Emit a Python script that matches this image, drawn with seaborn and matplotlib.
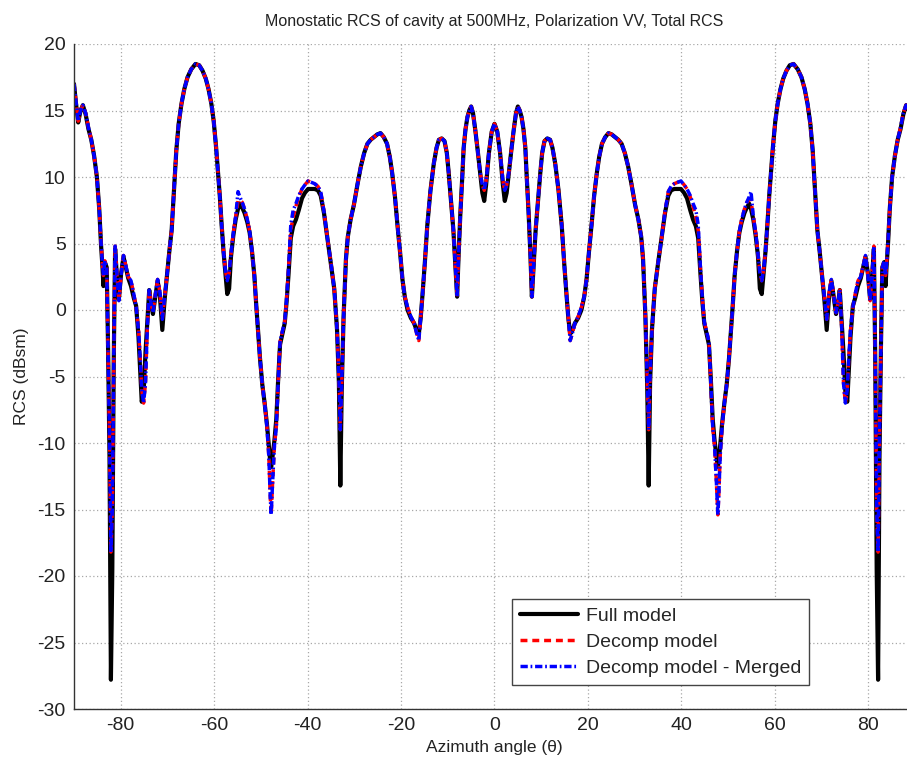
import matplotlib
matplotlib.use("Agg")
import matplotlib.pyplot as plt
import seaborn as sns

# Azimuth angles (deg), left half -90..0
angle_left = [
    -90.0, -89.6, -89.1, -88.6, -88.1, -87.5, -86.9, -86.3, -85.7, -85.1,
    -84.6, -84.2, -83.9, -83.7, -83.4, -83.0, -82.7, -82.4, -82.1, -81.8,
    -81.5, -81.2, -80.8, -80.4, -79.9, -79.4, -78.9, -78.4, -77.8, -77.2,
    -76.7, -76.2, -75.8, -75.5, -75.1, -74.7, -74.3, -73.9, -73.5, -73.1,
    -72.6, -72.1, -71.6, -71.1, -70.6, -70.1, -69.6, -69.1, -68.6, -68.1,
    -67.6, -67.0, -66.4, -65.7, -64.9, -64.0, -63.2, -62.5, -61.8, -61.2,
    -60.6, -60.1, -59.6, -59.2, -58.8, -58.4, -58.0, -57.6, -57.2, -56.8,
    -56.4, -55.9, -55.4, -54.9, -54.5, -54.0, -53.5, -52.9, -52.4, -51.9,
    -51.4, -51.0, -50.6, -50.2, -49.7, -49.2, -48.7, -48.3, -48.0, -47.8,
    -47.5, -47.1, -46.7, -46.3, -45.9, -45.4, -44.9, -44.5, -44.1, -43.6,
    -43.1, -42.5, -41.9, -41.2, -40.6, -39.9, -39.2, -38.5, -37.8, -37.2,
    -36.5, -35.8, -35.0, -34.3, -33.7, -33.3, -33.0, -32.7, -32.3, -31.8,
    -31.4, -30.8, -30.1, -29.3, -28.6, -27.9, -27.2, -26.5, -25.8, -25.1,
    -24.4, -23.7, -23.0, -22.4, -21.9, -21.3, -20.8, -20.2, -19.7, -19.2,
    -18.6, -17.9, -17.2, -16.7, -16.2, -15.8, -15.4, -14.9, -14.4, -13.7,
    -13.0, -12.4, -11.9, -11.3, -10.7, -10.2, -9.8, -9.3, -8.8, -8.4,
    -8.0, -7.7, -7.3, -6.9, -6.6, -6.2, -5.8, -5.4, -5.0, -4.6,
    -4.1, -3.6, -3.1, -2.6, -2.2, -1.8, -1.2, -0.6, 0.0,
]
full_left = [
    17.0, 15.6, 14.1, 15.0, 15.4, 14.7, 13.6, 12.8, 11.6, 10.0,
    7.6, 4.8, 3.2, 1.8, 3.6, 3.2, -3.0, -11.0, -27.8, -19.5,
    -4.0, 4.6, 2.4, 0.8, 2.8, 4.0, 3.2, 2.4, 1.8, 0.9,
    0.3, -2.0, -4.8, -6.9, -6.2, -3.2, -0.8, 1.5, 0.4, -0.3,
    1.0, 2.2, 1.0, -1.5, 0.8, 2.6, 4.4, 6.0, 9.0, 12.0,
    14.0, 15.5, 16.6, 17.5, 18.1, 18.5, 18.4, 18.0, 17.4, 16.6,
    15.5, 14.2, 12.3, 10.5, 8.6, 6.4, 4.4, 2.8, 1.2, 1.6,
    4.0, 5.6, 6.8, 7.6, 8.0, 7.7, 7.3, 6.6, 5.8, 4.4,
    2.6, 0.4, -1.6, -3.6, -5.6, -7.0, -8.6, -10.2, -11.4, -11.8,
    -11.0, -9.8, -8.2, -5.2, -2.6, -1.8, -1.0, 0.6, 2.6, 5.4,
    6.3, 6.8, 7.5, 8.4, 8.8, 9.1, 9.1, 9.1, 9.0, 8.6,
    7.3, 5.5, 3.5, 1.6, -1.5, -5.5, -13.2, -6.0, -0.5, 3.8,
    5.5, 6.8, 7.9, 9.5, 10.8, 11.8, 12.5, 12.8, 13.0, 13.2,
    13.3, 13.0, 12.5, 11.5, 10.3, 8.5, 6.5, 4.3, 2.3, 1.0,
    0.0, -0.6, -1.0, -1.5, -1.8, -0.6, 1.2, 3.6, 6.3, 9.0,
    11.0, 12.2, 12.8, 12.9, 12.7, 11.8, 10.3, 8.2, 6.0, 3.5,
    1.0, 4.0, 7.3, 10.0, 12.2, 13.6, 14.5, 15.0, 15.3, 14.8,
    13.5, 12.0, 10.4, 8.8, 8.2, 9.4, 11.8, 13.4, 14.0,
]
decomp_left = [
    17.0, 15.8, 14.2, 15.0, 15.4, 14.8, 13.7, 12.8, 11.6, 10.0,
    7.6, 5.0, 3.4, 2.6, 3.7, 3.2, -3.0, -9.5, -18.2, -15.0,
    -4.0, 4.8, 2.6, 0.7, 2.7, 4.1, 3.3, 2.5, 2.2, 1.2,
    0.2, -1.5, -3.8, -6.0, -7.0, -5.5, -1.2, 1.5, 0.5, -0.2,
    1.1, 2.3, 1.3, -0.7, 1.0, 2.6, 4.4, 6.0, 9.0, 12.0,
    14.0, 15.5, 16.6, 17.5, 18.1, 18.5, 18.4, 18.0, 17.4, 16.6,
    15.5, 14.2, 12.3, 10.5, 8.6, 6.4, 4.4, 3.0, 2.2, 2.8,
    4.2, 5.8, 7.0, 8.2, 8.3, 8.1, 7.6, 6.8, 5.9, 4.4,
    2.6, 0.4, -1.6, -3.6, -5.6, -7.0, -8.8, -11.0, -14.0, -15.4,
    -13.0, -10.2, -8.8, -5.5, -2.4, -1.6, -0.9, 0.8, 3.0, 6.0,
    7.0, 7.8, 8.5, 9.1, 9.4, 9.7, 9.6, 9.5, 9.3, 8.9,
    7.4, 5.5, 3.5, 1.6, -1.5, -5.0, -9.0, -5.5, -0.5, 3.8,
    5.5, 6.8, 7.9, 9.5, 10.8, 11.8, 12.5, 12.8, 13.0, 13.2,
    13.3, 13.0, 12.5, 11.5, 10.3, 8.5, 6.5, 4.3, 2.3, 1.0,
    0.2, -0.5, -1.0, -1.7, -2.3, -0.6, 1.2, 3.6, 6.3, 9.0,
    11.0, 12.2, 12.8, 12.9, 12.7, 11.8, 10.3, 8.2, 6.0, 3.5,
    1.0, 4.0, 7.3, 10.0, 12.2, 13.6, 14.5, 15.0, 15.3, 14.8,
    13.5, 12.0, 10.4, 9.4, 9.0, 9.7, 11.8, 13.4, 14.0,
]
merged_left = [
    17.0, 15.8, 14.2, 15.0, 15.4, 14.8, 13.7, 12.8, 11.6, 10.0,
    7.6, 5.0, 3.4, 2.6, 3.7, 3.2, -3.0, -9.5, -18.2, -15.0,
    -4.0, 4.8, 2.6, 0.7, 2.7, 4.1, 3.3, 2.5, 2.2, 1.2,
    0.2, -1.5, -3.8, -6.0, -7.0, -5.5, -1.2, 1.5, 0.5, -0.2,
    1.1, 2.3, 1.3, -0.7, 1.0, 2.6, 4.4, 6.0, 9.0, 12.0,
    14.0, 15.5, 16.6, 17.5, 18.1, 18.5, 18.4, 18.0, 17.4, 16.6,
    15.5, 14.2, 12.3, 10.5, 8.6, 6.4, 4.4, 3.0, 2.2, 2.8,
    4.2, 5.8, 7.0, 8.9, 8.5, 8.1, 7.6, 6.8, 5.9, 4.4,
    2.6, 0.4, -1.6, -3.6, -5.6, -7.0, -8.8, -11.0, -14.0, -15.4,
    -13.0, -10.2, -8.8, -5.5, -2.4, -1.6, -0.9, 0.8, 3.0, 6.4,
    7.5, 8.0, 8.6, 9.1, 9.4, 9.7, 9.6, 9.5, 9.3, 8.9,
    7.4, 5.5, 3.5, 1.6, -1.5, -5.0, -9.0, -5.5, -0.5, 3.8,
    5.5, 6.8, 7.9, 9.5, 10.8, 11.8, 12.5, 12.8, 13.0, 13.2,
    13.3, 13.0, 12.5, 11.5, 10.3, 8.5, 6.5, 4.3, 2.3, 1.0,
    0.2, -0.5, -1.0, -1.7, -2.3, -0.6, 1.2, 3.6, 6.3, 9.0,
    11.0, 12.2, 12.8, 12.9, 12.7, 11.8, 10.3, 8.2, 6.0, 3.5,
    1.0, 4.0, 7.3, 10.0, 12.2, 13.6, 14.5, 15.0, 15.3, 14.8,
    13.5, 12.0, 10.4, 9.4, 9.0, 9.7, 11.8, 13.4, 14.0,
]

# right half 0..90
angle_right = [
    0.6, 1.2, 1.8, 2.2, 2.6, 3.1, 3.6, 4.1, 4.6, 5.0,
    5.4, 5.8, 6.2, 6.6, 6.9, 7.3, 7.7, 8.0, 8.4, 8.8,
    9.3, 9.8, 10.2, 10.7, 11.3, 11.9, 12.4, 13.0, 13.7, 14.4,
    14.9, 15.4, 15.8, 16.2, 16.7, 17.2, 17.9, 18.6, 19.2, 19.7,
    20.2, 20.8, 21.3, 21.9, 22.4, 23.0, 23.7, 24.4, 25.1, 25.8,
    26.5, 27.2, 27.9, 28.6, 29.3, 30.1, 30.8, 31.4, 31.8, 32.3,
    32.7, 33.0, 33.3, 33.7, 34.3, 35.0, 35.8, 36.5, 37.2, 37.8,
    38.5, 39.2, 39.9, 40.6, 41.2, 41.9, 42.5, 43.1, 43.6, 44.1,
    44.5, 44.9, 45.4, 45.9, 46.3, 46.7, 47.1, 47.5, 47.8, 48.0,
    48.3, 48.7, 49.2, 49.7, 50.2, 50.6, 51.0, 51.4, 51.9, 52.4,
    52.9, 53.5, 54.0, 54.5, 54.9, 55.4, 55.9, 56.4, 56.8, 57.2,
    57.6, 58.0, 58.4, 58.8, 59.2, 59.6, 60.1, 60.6, 61.2, 61.8,
    62.5, 63.2, 64.0, 64.9, 65.7, 66.4, 67.0, 67.6, 68.1, 68.6,
    69.1, 69.6, 70.1, 70.6, 71.1, 71.6, 72.1, 72.6, 73.1, 73.5,
    73.9, 74.3, 74.7, 75.1, 75.5, 75.8, 76.2, 76.7, 77.2, 77.8,
    78.4, 78.9, 79.4, 79.9, 80.4, 80.8, 81.2, 81.5, 81.8, 82.1,
    82.4, 82.7, 83.0, 83.4, 83.7, 83.9, 84.2, 84.6, 85.1, 85.7,
    86.3, 86.9, 87.5, 88.1, 88.6, 89.1, 89.6, 90.0,
]
full_right = [
    13.4, 11.8, 9.4, 8.2, 8.8, 10.4, 12.0, 13.5, 14.8, 15.3,
    15.0, 14.5, 13.6, 12.2, 10.0, 7.3, 4.0, 1.0, 3.5, 6.0,
    8.2, 10.3, 11.8, 12.7, 12.9, 12.8, 12.2, 11.0, 9.0, 6.3,
    3.6, 1.2, -0.6, -1.8, -1.5, -1.0, -0.6, 0.0, 1.0, 2.3,
    4.3, 6.5, 8.5, 10.3, 11.5, 12.5, 13.0, 13.3, 13.2, 13.0,
    12.8, 12.5, 11.8, 10.8, 9.5, 7.9, 6.8, 5.5, 3.8, -0.5,
    -6.0, -13.2, -5.5, -1.5, 1.6, 3.5, 5.5, 7.3, 8.6, 9.0,
    9.1, 9.1, 9.1, 8.8, 8.4, 7.5, 6.8, 6.3, 5.4, 2.6,
    0.6, -1.0, -1.8, -2.6, -5.2, -8.2, -9.8, -11.0, -11.8, -11.4,
    -10.2, -8.6, -7.0, -5.6, -3.6, -1.6, 0.4, 2.6, 4.4, 5.8,
    6.6, 7.3, 7.7, 8.0, 7.6, 6.8, 5.6, 4.0, 1.6, 1.2,
    2.8, 4.4, 6.4, 8.6, 10.5, 12.3, 14.2, 15.5, 16.6, 17.4,
    18.0, 18.4, 18.5, 18.1, 17.5, 16.6, 15.5, 14.0, 12.0, 9.0,
    6.0, 4.4, 2.6, 0.8, -1.5, 1.0, 2.2, 1.0, -0.3, 0.4,
    1.5, -0.8, -3.2, -6.2, -6.9, -4.8, -2.0, 0.3, 0.9, 1.8,
    2.4, 3.2, 4.0, 2.8, 0.8, 2.4, 4.6, -4.0, -19.5, -27.8,
    -11.0, -3.0, 3.2, 3.6, 1.8, 3.2, 4.8, 7.6, 10.0, 11.6,
    12.8, 13.6, 14.7, 15.4, 15.0, 14.1, 15.6, 17.0,
]
decomp_right = [
    13.4, 11.8, 9.7, 9.0, 9.4, 10.4, 12.0, 13.5, 14.8, 15.3,
    15.0, 14.5, 13.6, 12.2, 10.0, 7.3, 4.0, 1.0, 3.5, 6.0,
    8.2, 10.3, 11.8, 12.7, 12.9, 12.8, 12.2, 11.0, 9.0, 6.3,
    3.6, 1.2, -0.6, -2.3, -1.7, -1.0, -0.5, 0.2, 1.0, 2.3,
    4.3, 6.5, 8.5, 10.3, 11.5, 12.5, 13.0, 13.3, 13.2, 13.0,
    12.8, 12.5, 11.8, 10.8, 9.5, 7.9, 6.8, 5.5, 3.8, -0.5,
    -5.5, -9.0, -5.0, -1.5, 1.6, 3.5, 5.5, 7.4, 8.9, 9.3,
    9.5, 9.6, 9.7, 9.4, 9.1, 8.5, 7.8, 7.0, 6.0, 3.0,
    0.8, -0.9, -1.6, -2.4, -5.5, -8.8, -10.2, -13.0, -15.4, -14.0,
    -11.0, -8.8, -7.0, -5.6, -3.6, -1.6, 0.4, 2.6, 4.4, 5.9,
    6.8, 7.6, 8.1, 8.3, 8.2, 7.0, 5.8, 4.2, 2.8, 2.2,
    3.0, 4.4, 6.4, 8.6, 10.5, 12.3, 14.2, 15.5, 16.6, 17.4,
    18.0, 18.4, 18.5, 18.1, 17.5, 16.6, 15.5, 14.0, 12.0, 9.0,
    6.0, 4.4, 2.6, 1.0, -0.7, 1.3, 2.3, 1.1, -0.2, 0.5,
    1.5, -1.2, -5.5, -7.0, -6.0, -3.8, -1.5, 0.2, 1.2, 2.2,
    2.5, 3.3, 4.1, 2.7, 0.7, 2.6, 4.8, -4.0, -15.0, -18.2,
    -9.5, -3.0, 3.2, 3.7, 2.6, 3.4, 5.0, 7.6, 10.0, 11.6,
    12.8, 13.7, 14.8, 15.4, 15.0, 14.2, 15.8, 17.0,
]
merged_right = [
    13.4, 11.8, 9.7, 9.0, 9.4, 10.4, 12.0, 13.5, 14.8, 15.3,
    15.0, 14.5, 13.6, 12.2, 10.0, 7.3, 4.0, 1.0, 3.5, 6.0,
    8.2, 10.3, 11.8, 12.7, 12.9, 12.8, 12.2, 11.0, 9.0, 6.3,
    3.6, 1.2, -0.6, -2.3, -1.7, -1.0, -0.5, 0.2, 1.0, 2.3,
    4.3, 6.5, 8.5, 10.3, 11.5, 12.5, 13.0, 13.3, 13.2, 13.0,
    12.8, 12.5, 11.8, 10.8, 9.5, 7.9, 6.8, 5.5, 3.8, -0.5,
    -5.5, -9.0, -5.0, -1.5, 1.6, 3.5, 5.5, 7.4, 8.9, 9.3,
    9.5, 9.6, 9.7, 9.4, 9.1, 8.6, 8.0, 7.5, 6.4, 3.0,
    0.8, -0.9, -1.6, -2.4, -5.5, -8.8, -10.2, -13.0, -15.4, -14.0,
    -11.0, -8.8, -7.0, -5.6, -3.6, -1.6, 0.4, 2.6, 4.4, 5.9,
    6.8, 7.6, 8.1, 8.5, 8.9, 7.0, 5.8, 4.2, 2.8, 2.2,
    3.0, 4.4, 6.4, 8.6, 10.5, 12.3, 14.2, 15.5, 16.6, 17.4,
    18.0, 18.4, 18.5, 18.1, 17.5, 16.6, 15.5, 14.0, 12.0, 9.0,
    6.0, 4.4, 2.6, 1.0, -0.7, 1.3, 2.3, 1.1, -0.2, 0.5,
    1.5, -1.2, -5.5, -7.0, -6.0, -3.8, -1.5, 0.2, 1.2, 2.2,
    2.5, 3.3, 4.1, 2.7, 0.7, 2.6, 4.8, -4.0, -15.0, -18.2,
    -9.5, -3.0, 3.2, 3.7, 2.6, 3.4, 5.0, 7.6, 10.0, 11.6,
    12.8, 13.7, 14.8, 15.4, 15.0, 14.2, 15.8, 17.0,
]

x_ticks = [-80, -60, -40, -20, 0, 20, 40, 60, 80]
y_ticks = [-30, -25, -20, -15, -10, -5, 0, 5, 10, 15, 20]

angle = angle_left + angle_right
full = full_left + full_right
decomp = decomp_left + decomp_right
merged = merged_left + merged_right

sns.set_theme(style="white")
plt.rcParams['font.family'] = ['Liberation Sans', 'DejaVu Sans']
plt.rcParams['axes.unicode_minus'] = False

fig = plt.figure(figsize=(9.07, 7.6), dpi=100)
# axes run a bit past the right edge like the original
ax = fig.add_axes([74 / 907, 51 / 760, 841 / 907, 665 / 760])

sns.lineplot(x=angle, y=full, ax=ax, color='black', linewidth=3.0,
             sort=False, estimator=None, label='Full model')
sns.lineplot(x=angle, y=decomp, ax=ax, color='red', linewidth=2.5,
             linestyle=(0, (2.0, 1.4)), sort=False, estimator=None,
             label='Decomp model')
sns.lineplot(x=angle, y=merged, ax=ax, color='blue', linewidth=2.5,
             linestyle=(0, (2.1, 0.8, 0.5, 0.8)), sort=False, estimator=None,
             label='Decomp model - Merged')

ax.set_xlim(-90, 90)
ax.set_ylim(-30, 20)
ax.set_xticks(x_ticks)
ax.set_yticks(y_ticks)
ax.grid(True, color='#a8a8a8', linestyle=(0, (1, 2)), linewidth=0.9)
ax.tick_params(direction='in', length=5, width=0.9, labelsize=14,
               colors='#222222', pad=6)
for s in ['top', 'right']:
    ax.spines[s].set_visible(False)
for s in ['left', 'bottom']:
    ax.spines[s].set_color('#333333')
    ax.spines[s].set_linewidth(1.0)

ax.set_title('Monostatic RCS of cavity at 500MHz, Polarization VV, Total RCS',
             fontsize=11.5, color='#222222', pad=13)
ax.set_xlabel('Azimuth angle (θ)', fontsize=12.5, color='#222222', labelpad=4)
ax.set_ylabel('RCS (dBsm)', fontsize=12.5, color='#222222', labelpad=6)

leg = ax.legend(loc='lower left', bbox_to_anchor=(0.521, 0.036), fontsize=14,
                frameon=True, fancybox=False, framealpha=1, edgecolor='#444444',
                handlelength=3.0, borderpad=0.4, labelspacing=0.45,
                handletextpad=0.4, borderaxespad=0)
leg.get_frame().set_linewidth(1.0)

fig.savefig('out.png', dpi=100)
